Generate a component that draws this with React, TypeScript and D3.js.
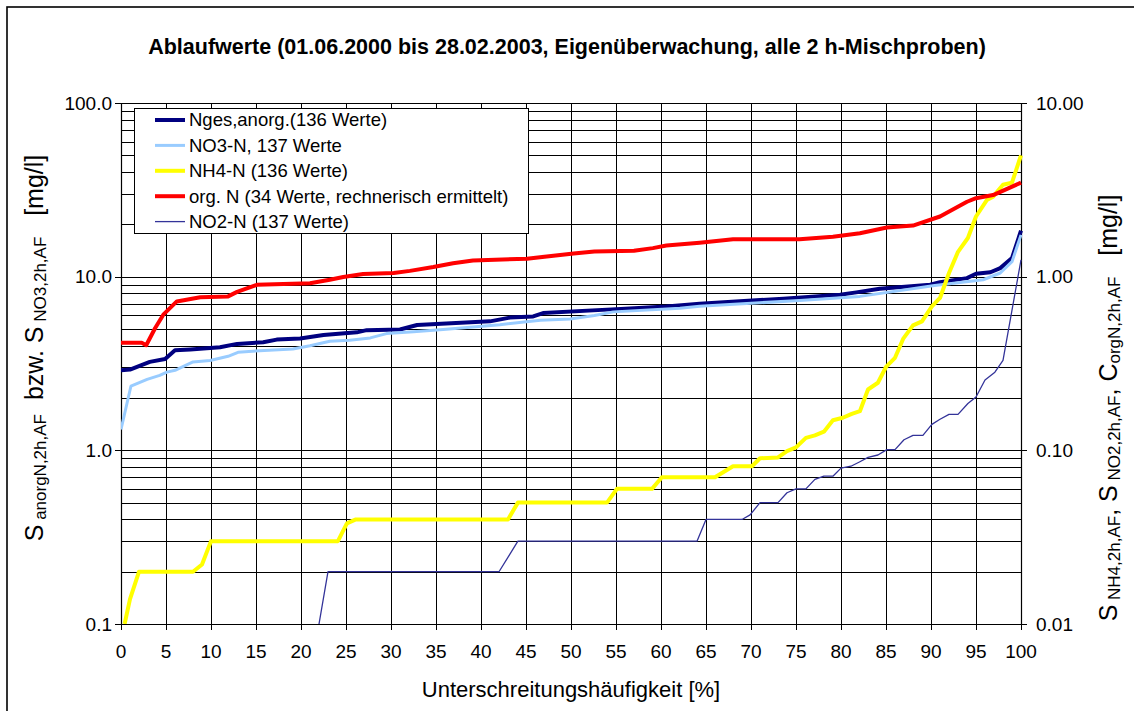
import React from 'react';
import * as d3 from 'd3';

type P = [number, number];

const titleText = 'Ablaufwerte (01.06.2000 bis 28.02.2003, Eigenüberwachung, alle 2 h-Mischproben)';
const xTitle = 'Unterschreitungshäufigkeit [%]';
const xTicks = [0, 5, 10, 15, 20, 25, 30, 35, 40, 45, 50, 55, 60, 65, 70, 75, 80, 85, 90, 95, 100];
const leftTicks = [0.1, 1, 10, 100];
const rightTicks = [0.01, 0.1, 1, 10];
const minorFactors = [1, 2, 3, 4, 5, 6, 7, 8, 9];
const decades = [0.1, 1, 10];

// left axis series [percent, mg/l]
const ngesData: P[] = [
  [0, 2.89], [1, 2.92], [3.2, 3.23], [4.9, 3.36], [6, 3.77], [7.7, 3.81], [11, 3.92], [12.9, 4.1],
  [15.8, 4.19], [17.3, 4.34], [19.9, 4.4], [22.5, 4.62], [26.2, 4.78], [27.3, 4.92], [31, 4.96],
  [32.9, 5.27], [41, 5.53], [43.2, 5.81], [45.8, 5.9], [46.9, 6.17], [54, 6.46], [60.6, 6.74],
  [64.3, 6.99], [73.6, 7.47], [79.9, 7.87], [81.7, 8.12], [84.3, 8.52], [89.9, 8.98], [91, 9.28],
  [94, 9.81], [95, 10.4], [96.6, 10.6], [97.7, 11.2], [99, 12.8], [100, 18.4],
];
const no3Data: P[] = [
  [0, 1.32], [1.1, 2.34], [2.9, 2.56], [4.3, 2.7], [5.1, 2.82], [6, 2.89], [8, 3.23], [9.9, 3.29],
  [11.9, 3.48], [13, 3.67], [15.4, 3.75], [19.1, 3.83], [21, 4.0], [23.2, 4.25], [25.4, 4.31],
  [27.7, 4.44], [29.5, 4.7], [32.5, 4.82], [35.8, 4.96], [42.1, 5.29], [46.6, 5.61], [49.9, 5.71],
  [52.6, 5.97], [54.7, 6.27], [62.1, 6.58], [64.3, 6.75], [75.4, 7.3], [82.1, 7.7], [90.4, 8.9],
  [95.8, 9.6], [97.7, 10.5], [99, 12.2], [100, 17.4],
];
// right axis series [percent, mg/l]
const nh4Data: P[] = [
  [0.4, 0.01], [1, 0.0139], [2, 0.02], [8, 0.02], [9, 0.022], [10, 0.03], [24.1, 0.03], [25.1, 0.038],
  [26.1, 0.04], [43, 0.04], [44.1, 0.05], [54, 0.05], [55.1, 0.06], [59, 0.06], [60.1, 0.07],
  [66, 0.07], [68, 0.081], [70.1, 0.081], [71, 0.09], [73, 0.091], [74, 0.099], [75, 0.104],
  [76.1, 0.118], [77.1, 0.122], [78.1, 0.128], [79.1, 0.149], [80.2, 0.154], [81.2, 0.162],
  [82.1, 0.168], [83, 0.224], [84.1, 0.245], [85, 0.302], [86, 0.341], [86.9, 0.438], [88, 0.524],
  [89, 0.553], [90.1, 0.674], [91, 0.754], [92, 1.05], [93, 1.39], [94.1, 1.67], [95, 2.22],
  [96.2, 2.76], [96.9, 2.89], [98, 3.38], [99, 3.48], [100, 5.0],
];
const orgNData: P[] = [
  [0, 0.416], [2.3, 0.416], [2.8, 0.403], [3.8, 0.506], [4.7, 0.604], [6.2, 0.72], [8.8, 0.762],
  [11.9, 0.77], [12.9, 0.817], [15.1, 0.898], [21, 0.917], [23.2, 0.96], [24.7, 0.996], [26.9, 1.035],
  [30.3, 1.05], [32.1, 1.08], [34.7, 1.137], [36.9, 1.196], [39.1, 1.238], [45.1, 1.27], [47.3, 1.307],
  [50.3, 1.36], [52.6, 1.395], [57, 1.41], [59.1, 1.46], [60.6, 1.51], [64.3, 1.57], [68, 1.64],
  [75.4, 1.64], [79.1, 1.7], [82.1, 1.78], [85.1, 1.92], [88, 1.97], [91, 2.22], [94, 2.7],
  [95, 2.83], [96.9, 2.95], [100, 3.48],
];
const no2Data: P[] = [
  [22, 0.01], [23, 0.02], [42, 0.02], [44.1, 0.03], [64, 0.03], [65, 0.04], [69, 0.04], [69.9, 0.0425],
  [71, 0.05], [73, 0.05], [74, 0.057], [75, 0.06], [76.1, 0.06], [77.1, 0.068], [78.1, 0.071],
  [79.1, 0.071], [80, 0.079], [81.1, 0.081], [82.1, 0.086], [83, 0.091], [84.1, 0.094], [85.1, 0.101],
  [86, 0.101], [87, 0.115], [88, 0.122], [89.1, 0.122], [90.1, 0.141], [91, 0.151], [92, 0.161],
  [93, 0.161], [94.1, 0.186], [95, 0.203], [96, 0.254], [97.1, 0.282], [98, 0.33], [100, 1.25],
];

const legendLabels = [
  'Nges,anorg.(136 Werte)',
  'NO3-N, 137 Werte',
  'NH4-N (136 Werte)',
  'org. N (34 Werte, rechnerisch ermittelt)',
  'NO2-N (137 Werte)',
];

const FONT = '"Liberation Sans", Arial, Helvetica, sans-serif';

export default function App() {
  const L = 121, R = 1021, T = 103, B = 624;
  const x = d3.scaleLinear().domain([0, 100]).range([L, R]);
  const yL = d3.scaleLog().domain([0.1, 100]).range([B, T]);
  const yR = d3.scaleLog().domain([0.01, 10]).range([B, T]);
  const lineL = d3.line<P>().x(d => x(d[0])).y(d => yL(d[1]));
  const lineR = d3.line<P>().x(d => x(d[0])).y(d => yR(d[1]));

  const series = [
    { data: ngesData, gen: lineL, color: '#000080', w: 4 },
    { data: no3Data, gen: lineL, color: '#99CCFF', w: 3 },
    { data: nh4Data, gen: lineR, color: '#FFFF00', w: 4 },
    { data: orgNData, gen: lineR, color: '#FF0000', w: 4 },
    { data: no2Data, gen: lineR, color: '#333399', w: 1.3 },
  ];

  const minorVals: number[] = [];
  decades.forEach(d => minorFactors.forEach(m => minorVals.push(d * m)));
  minorVals.push(100);

  const legendX = 134, legendY = 108, legendW = 394, legendH = 125;
  const MAIN = 25, SUB = 17;

  return (
    <svg width={1134} height={711} style={{ position: 'absolute', left: 0, top: 0, background: '#fff' }} fontFamily={FONT}>
      <rect x={0} y={0} width={1134} height={711} fill="#fff" />
      <rect x={7} y={7} width={1140} height={720} fill="none" stroke="#000" strokeWidth={1.6} />
      <defs>
        <clipPath id="plotClip">
          <rect x={L} y={T - 2} width={R - L + 2} height={B - T + 2} />
        </clipPath>
      </defs>
      {/* horizontal grid */}
      {minorVals.map((v, i) => (
        <line key={'h' + i} x1={L} x2={R} y1={Math.round(yL(v)) + 0.5} y2={Math.round(yL(v)) + 0.5} stroke="#000" strokeWidth={1} />
      ))}
      {/* vertical grid */}
      {xTicks.map(t => (
        <line key={'v' + t} x1={Math.round(x(t)) + 0.5} x2={Math.round(x(t)) + 0.5} y1={T} y2={B + 6} stroke="#000" strokeWidth={1} />
      ))}
      {/* axes */}
      <line x1={L + 0.5} x2={L + 0.5} y1={T} y2={B} stroke="#000" strokeWidth={1.2} />
      <line x1={R + 0.5} x2={R + 0.5} y1={T} y2={B} stroke="#000" strokeWidth={1.2} />
      <line x1={L} x2={R} y1={B + 0.5} y2={B + 0.5} stroke="#000" strokeWidth={1.2} />
      {leftTicks.map(t => (
        <g key={'lt' + t}>
          <line x1={L - 6} x2={L} y1={Math.round(yL(t)) + 0.5} y2={Math.round(yL(t)) + 0.5} stroke="#000" />
          <text x={112} y={yL(t)} dy="0.35em" textAnchor="end" fontSize={19} fill="#000">{d3.format('.1f')(t)}</text>
        </g>
      ))}
      {rightTicks.map(t => (
        <g key={'rt' + t}>
          <line x1={R} x2={R + 6} y1={Math.round(yR(t)) + 0.5} y2={Math.round(yR(t)) + 0.5} stroke="#000" />
          <text x={1036} y={yR(t)} dy="0.35em" textAnchor="start" fontSize={19} fill="#000">{d3.format('.2f')(t)}</text>
        </g>
      ))}
      {xTicks.map(t => (
        <text key={'xl' + t} x={x(t)} y={658} textAnchor="middle" fontSize={19} fill="#000">{t}</text>
      ))}
      {/* series */}
      <g clipPath="url(#plotClip)">
        {series.map((s, i) => (
          <path key={'s' + i} d={s.gen(s.data) || ''} fill="none" stroke={s.color} strokeWidth={s.w} strokeLinejoin="round" strokeLinecap="butt" />
        ))}
      </g>
      {/* legend */}
      <rect x={legendX + 0.5} y={legendY + 0.5} width={legendW} height={legendH} fill="#fff" stroke="#000" strokeWidth={1} />
      {legendLabels.map((lab, i) => {
        const cy = 120 + i * 25.4;
        const s = series[i];
        return (
          <g key={'lg' + i}>
            <line x1={155} x2={185} y1={cy} y2={cy} stroke={s.color} strokeWidth={s.w} />
            <text x={189} y={cy} dy="0.35em" fontSize={18.5} fill="#000">{lab}</text>
          </g>
        );
      })}
      {/* titles */}
      <text x={567} y={54} textAnchor="middle" fontSize={21.5} fontWeight="bold" fill="#000">{titleText}</text>
      <text x={571} y={697} textAnchor="middle" fontSize={22} fill="#000">{xTitle}</text>
      <text transform="translate(43,348) rotate(-90)" textAnchor="middle" fontSize={MAIN} fill="#000" style={{ whiteSpace: 'pre' }}>
        <tspan>S</tspan>
        <tspan fontSize={SUB} dy={3}> anorgN,2h,AF</tspan>
        <tspan dy={-3}>{'  bzw. S'}</tspan>
        <tspan fontSize={SUB} dy={3}> NO3,2h,AF</tspan>
        <tspan dy={-3}>{'   [mg/l]'}</tspan>
      </text>
      <text transform="translate(1117,408) rotate(-90)" textAnchor="middle" fontSize={MAIN} fill="#000" style={{ whiteSpace: 'pre' }}>
        <tspan>S</tspan>
        <tspan fontSize={SUB} dy={3}> NH4,2h,AF</tspan>
        <tspan dy={-3}>, S</tspan>
        <tspan fontSize={SUB} dy={3}> NO2,2h,AF</tspan>
        <tspan dy={-3}>, C</tspan>
        <tspan fontSize={SUB} dy={3}>orgN,2h,AF</tspan>
        <tspan dy={-3}>{'   [mg/l]'}</tspan>
      </text>
    </svg>
  );
}
